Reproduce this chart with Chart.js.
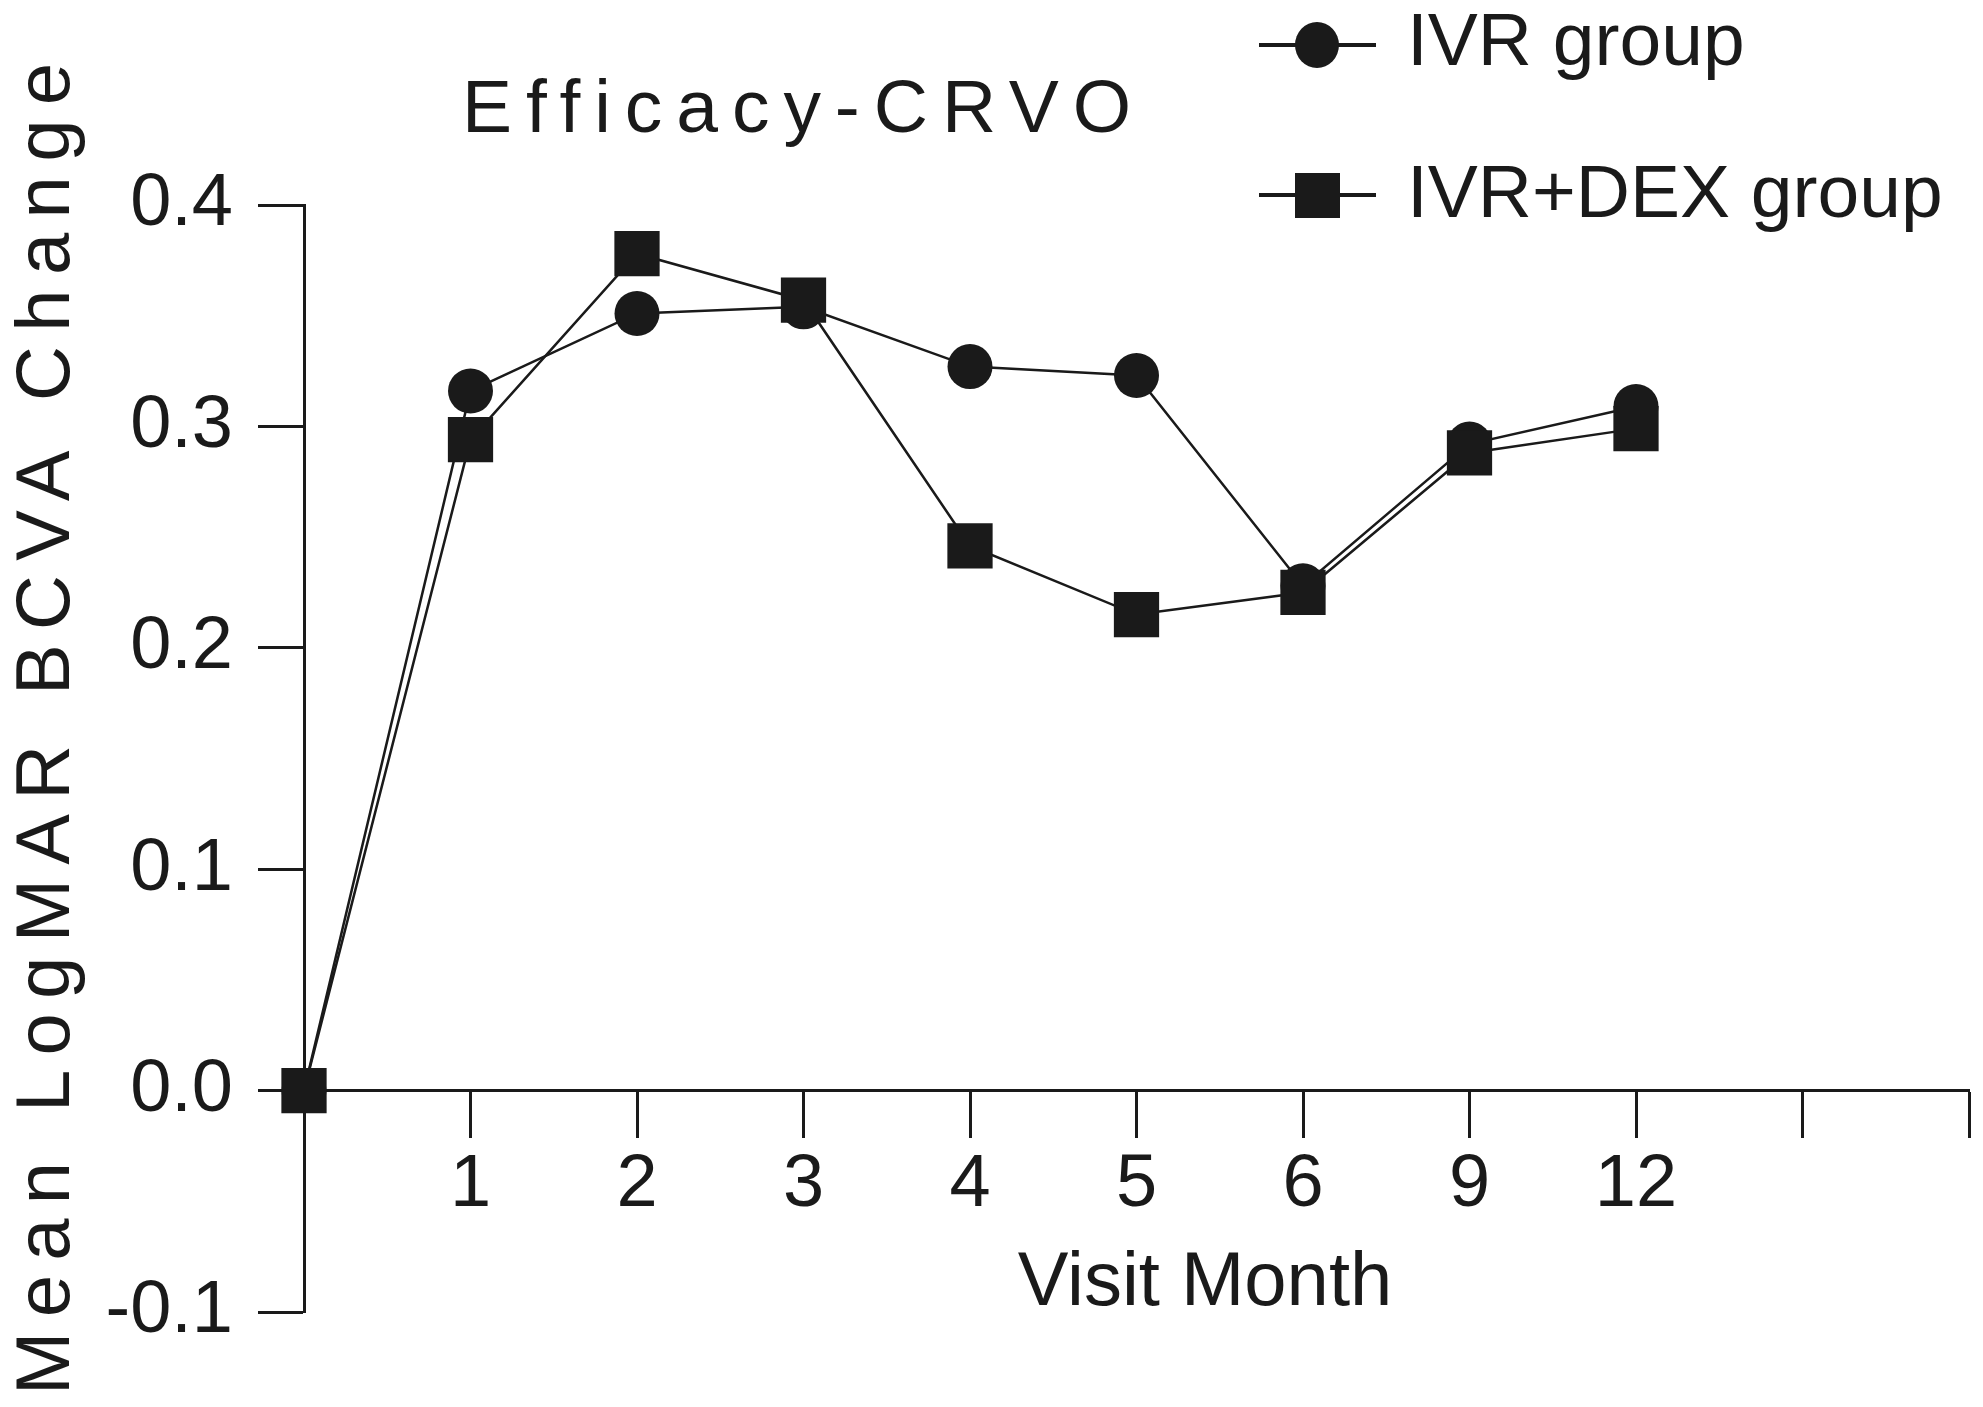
<!DOCTYPE html>
<html>
<head>
<meta charset="utf-8">
<title>Efficacy-CRVO</title>
<script src="https://cdn.jsdelivr.net/npm/chart.js@4"></script>
<style>
  html, body { margin: 0; padding: 0; background: #fff; }
  canvas { display: block; }
</style>
</head>
<body>
<canvas id="chart" width="1983" height="1407"></canvas>
<script>
// visit months (first slot is baseline, last two are empty ticks)
const months = ['', '1', '2', '3', '4', '5', '6', '9', '12', '', ''];
const ivrGroup = [0, 0.316, 0.351, 0.354, 0.327, 0.323, 0.228, 0.292, 0.309];
const ivrDexGroup = [0, 0.294, 0.378, 0.357, 0.246, 0.215, 0.225, 0.288, 0.299];
const yTicks = [-0.1, 0.0, 0.1, 0.2, 0.3, 0.4];

const INK = '#1a1a1a';
const FONT = "'Liberation Sans', Arial, Helvetica, sans-serif";

// draws text spread out so it fills a given length
function spacedText(ctx, text, x, y, length) {
  ctx.letterSpacing = '0px';
  const natural = ctx.measureText(text).width;
  const gap = (length - natural) / (text.length - 1);
  ctx.letterSpacing = gap + 'px';
  ctx.fillText(text, x, y);
  ctx.letterSpacing = '0px';
}

const annotations = {
  id: 'annotations',
  afterDraw(chart) {
    const ctx = chart.ctx;
    ctx.save();
    ctx.fillStyle = INK;
    ctx.textAlign = 'left';
    ctx.textBaseline = 'alphabetic';

    // chart title
    ctx.font = `75px ${FONT}`;
    spacedText(ctx, 'Efficacy-CRVO', 462, 132, 669);

    // y axis title, rotated
    ctx.save();
    ctx.translate(69, 1395);
    ctx.rotate(-Math.PI / 2);
    ctx.font = `76px ${FONT}`;
    spacedText(ctx, 'Mean LogMAR BCVA Change', 0, 0, 1332);
    ctx.restore();

    // x axis title
    ctx.font = `76px ${FONT}`;
    ctx.textAlign = 'center';
    ctx.fillText('Visit Month', 1205, 1305);

    // legend
    ctx.textAlign = 'left';
    ctx.font = `75px ${FONT}`;
    ctx.strokeStyle = INK;
    ctx.lineWidth = 4;
    const rows = [
      { label: 'IVR group', y: 45, base: 65, shape: 'circle' },
      { label: 'IVR+DEX group', y: 195, base: 217, shape: 'rect' }
    ];
    rows.forEach(row => {
      ctx.beginPath();
      ctx.moveTo(1259, row.y);
      ctx.lineTo(1376, row.y);
      ctx.stroke();
      ctx.beginPath();
      if (row.shape === 'circle') {
        ctx.ellipse(1317, row.y, 22, 23, 0, 0, Math.PI * 2);
      } else {
        ctx.rect(1295, row.y - 22, 45, 45);
      }
      ctx.fill();
      ctx.fillText(row.label, 1407, row.base);
    });
    ctx.restore();
  }
};

new Chart(document.getElementById('chart'), {
  type: 'line',
  data: {
    labels: months,
    datasets: [
      {
        label: 'IVR group',
        data: ivrGroup,
        borderColor: INK,
        backgroundColor: INK,
        borderWidth: 2.5,
        pointStyle: 'circle',
        pointRadius: 22.5,
        pointBorderWidth: 0,
        tension: 0,
        clip: false,
        order: 1
      },
      {
        label: 'IVR+DEX group',
        data: ivrDexGroup,
        borderColor: INK,
        backgroundColor: INK,
        borderWidth: 2.5,
        pointStyle: 'rect',
        pointRadius: 32,
        pointBorderWidth: 0,
        tension: 0,
        clip: false,
        order: 0
      }
    ]
  },
  options: {
    responsive: false,
    devicePixelRatio: 1,
    animation: false,
    layout: {
      autoPadding: false,
      padding: { left: 0, right: 14, top: 205, bottom: 95 }
    },
    plugins: {
      legend: { display: false },
      title: { display: false },
      tooltip: { enabled: false }
    },
    scales: {
      x: {
        type: 'category',
        position: { y: 0 },
        offset: false,
        grid: {
          drawOnChartArea: false,
          drawTicks: true,
          tickLength: 46,
          tickWidth: 3,
          tickColor: INK
        },
        border: { display: true, color: INK, width: 3 },
        ticks: {
          color: INK,
          padding: 5,
          maxRotation: 0,
          autoSkip: false,
          font: { family: FONT, size: 74 }
        }
      },
      y: {
        min: -0.1,
        max: 0.4,
        afterFit(scale) { scale.width = 304; },
        afterBuildTicks(scale) { scale.ticks = yTicks.map(v => ({ value: v })); },
        grid: {
          drawOnChartArea: false,
          drawTicks: true,
          tickLength: 46,
          tickWidth: 3,
          tickColor: INK
        },
        border: { display: true, color: INK, width: 3 },
        ticks: {
          color: INK,
          padding: 25,
          font: { family: FONT, size: 74 },
          callback: value => value.toFixed(1)
        }
      }
    }
  },
  plugins: [annotations]
});
</script>
</body>
</html>
